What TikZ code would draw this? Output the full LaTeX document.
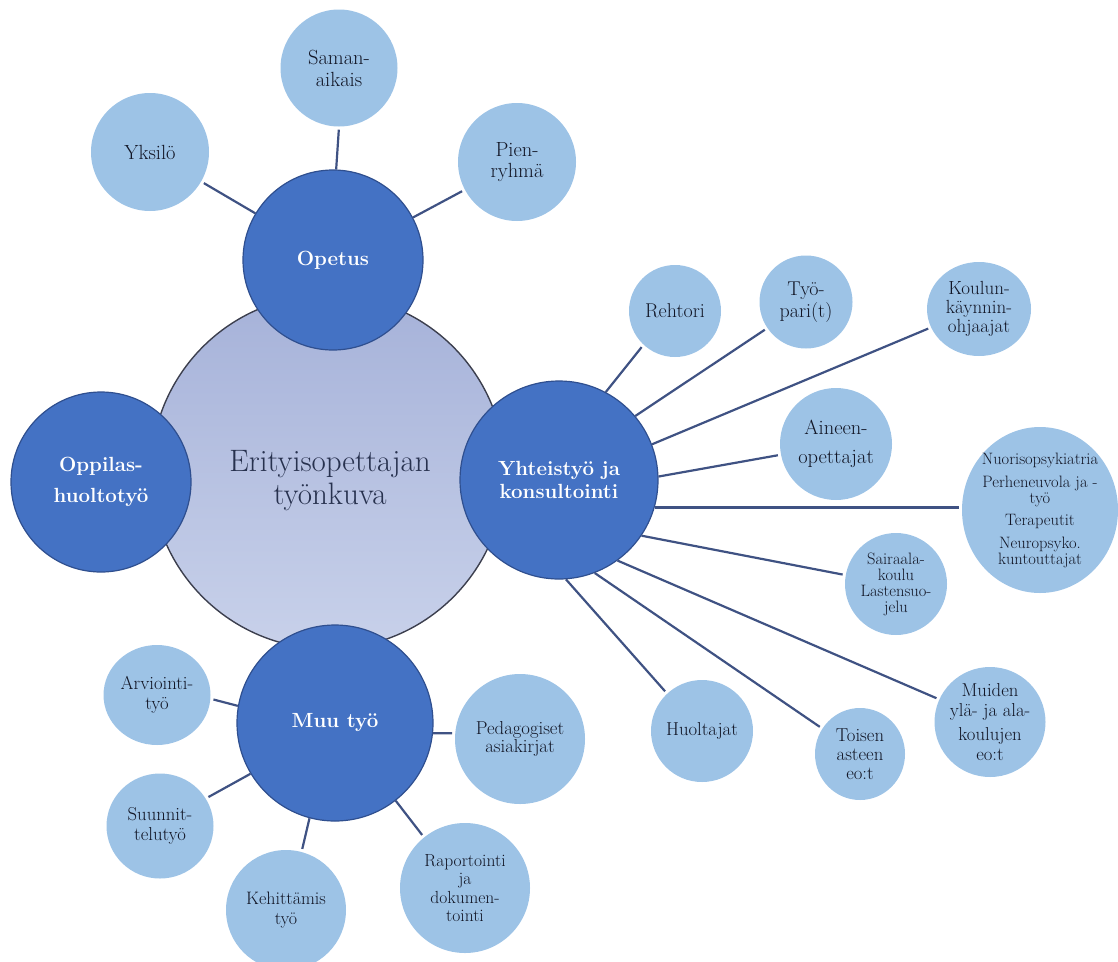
\documentclass[tikz,border=0pt]{standalone}
\usepackage{fontspec}
\usepackage{tikz}
\usetikzlibrary{shapes.geometric}
\definecolor{leafblue}{HTML}{9DC3E6}
\definecolor{leafink}{HTML}{121626}
\definecolor{hubblue}{HTML}{4472C4}
\definecolor{hubedge}{HTML}{2F4F8F}
\definecolor{coretop}{HTML}{A6B2D9}
\definecolor{corebot}{HTML}{C8D1EA}
\definecolor{coreedge}{HTML}{3C3F4E}
\definecolor{spokeblue}{HTML}{3F5283}
\definecolor{titleink}{HTML}{27314E}

\begin{document}
\begin{tikzpicture}[x=1pt, y=-1pt,
  hub/.style={ellipse, draw=hubedge, line width=1.2pt, fill=hubblue, inner sep=0pt, align=center, text=white, font=\fontsize{20.5}{23}\selectfont\bfseries},
  leaf/.style={ellipse, fill=leafblue, inner sep=-12pt, align=center, text=leafink, font=\fontsize{18.7}{20}\selectfont},
  spoke/.style={draw=spokeblue, line width=2.2pt, shorten >=3pt}]
  \useasboundingbox (0,0) rectangle (1118,961);

  % Centre
  \node[circle, draw=coreedge, line width=1.4pt, top color=coretop, bottom color=corebot, minimum size=354] (core) at (328,472) {};
  \node[text=titleink, align=center, font=\fontsize{31}{33}\selectfont] (title) at (330,481) {Erityisopettajan\\työnkuva};

  % Main areas
  \node[hub, minimum size=180] (ope) at (333,260) {Opetus};
  \node[hub, minimum size=180, font=\fontsize{20.5}{31}\selectfont\bfseries] (opp) at (101,482) {Oppilas-\\huoltotyö};
  \node[hub, minimum size=198] (ytk) at (559,480) {Yhteistyö ja\\konsultointi};
  \node[hub, minimum size=196] (muu) at (335,723) {Muu työ};

  % Opetus
  \node[leaf, minimum size=117, font=\fontsize{20.5}{22}\selectfont] (sam) at (339,68) {Saman-\\aikais};
  \node[leaf, minimum size=118, font=\fontsize{20.5}{22}\selectfont] (yks) at (150,152) {Yksilö};
  \node[leaf, minimum size=118, font=\fontsize{20.5}{21}\selectfont] (pie) at (517,162) {Pien-\\ryhmä};

  % Yhteistyö ja konsultointi
  \node[leaf, minimum size=92, font=\fontsize{20}{22}\selectfont] (reh) at (675,311) {Rehtori};
  \node[leaf, minimum size=93, font=\fontsize{20}{22}\selectfont] (tyo) at (806,302) {Työ-\\pari(t)};
  \node[leaf, minimum width=104, minimum height=94, font=\fontsize{19}{19}\selectfont] (kou) at (979,309) {Koulun-\\käynnin-\\ohjaajat};
  \node[leaf, minimum size=112, font=\fontsize{20.5}{29}\selectfont] (ain) at (836,444) {Aineen-\\opettajat};
  \node[leaf, minimum width=156, minimum height=166, font=\fontsize{16.5}{16}\selectfont] (nuo) at (1040,510) {Nuorisopsykiatria\\[7pt]Perheneuvola ja -\\työ\\[6pt]Terapeutit\\[7pt]Neuropsyko.\\kuntouttajat};
  \node[leaf, minimum size=102, font=\fontsize{16.5}{16}\selectfont] (sai) at (896,584) {Sairaala-\\koulu\\Lastensuo-\\jelu};
  \node[leaf, minimum width=111, minimum height=110] (mui) at (990,722) {Muiden\\ylä- ja ala-\\[4pt]koulujen\\eo:t};
  \node[leaf, minimum width=90, minimum height=92, font=\fontsize{18.7}{19}\selectfont] (toi) at (860,754) {Toisen\\asteen\\eo:t};
  \node[leaf, minimum size=102] (huo) at (702,731) {Huoltajat};

  % Muu työ
  \node[leaf, minimum width=107, minimum height=100] (arv) at (157,695) {Arviointi-\\työ};
  \node[leaf, minimum width=107, minimum height=105] (suu) at (160,826) {Suunnit-\\telutyö};
  \node[leaf, minimum size=120, font=\fontsize{18}{20}\selectfont] (keh) at (286,910) {Kehittämis\\työ};
  \node[leaf, minimum size=130, font=\fontsize{17.5}{18.5}\selectfont] (rap) at (465,888) {Raportointi\\ja\\dokumen-\\tointi};
  \node[leaf, minimum size=130, font=\fontsize{18.7}{18.5}\selectfont] (ped) at (520,739) {Pedagogiset\\asiakirjat};

  % Spokes
  \draw[spoke] (ope.88) -- (sam.-90);
  \draw[spoke] (ope.149) -- (yks.-30);
  \draw[spoke] (ope.28) -- (pie.208);

  \draw[spoke] (ytk.62) -- (reh.227);
  \draw[spoke] (ytk.40) -- (tyo.214);
  \draw[spoke] (ytk.21) -- (kou.201);
  \draw[spoke] (ytk.2) -- (ain.191);
  \draw[spoke] (ytk.-16) -- (ytk.-16 -| nuo.west);
  \draw[spoke] (ytk.-34) -- (sai.170);
  \draw[spoke] (ytk.-54) -- (mui.156);
  \draw[spoke] (ytk.-69) -- (toi.146);
  \draw[spoke] (ytk.-86) -- (huo.133);

  \draw[spoke] (muu.170) -- (arv.-4);
  \draw[spoke] (muu.211) -- (suu.31);
  \draw[spoke] (muu.-105) -- (keh.75);
  \draw[spoke] (muu.-52) -- (rap.129);
  \draw[spoke] (muu.-6) -- (ped.175);
\end{tikzpicture}
\end{document}
